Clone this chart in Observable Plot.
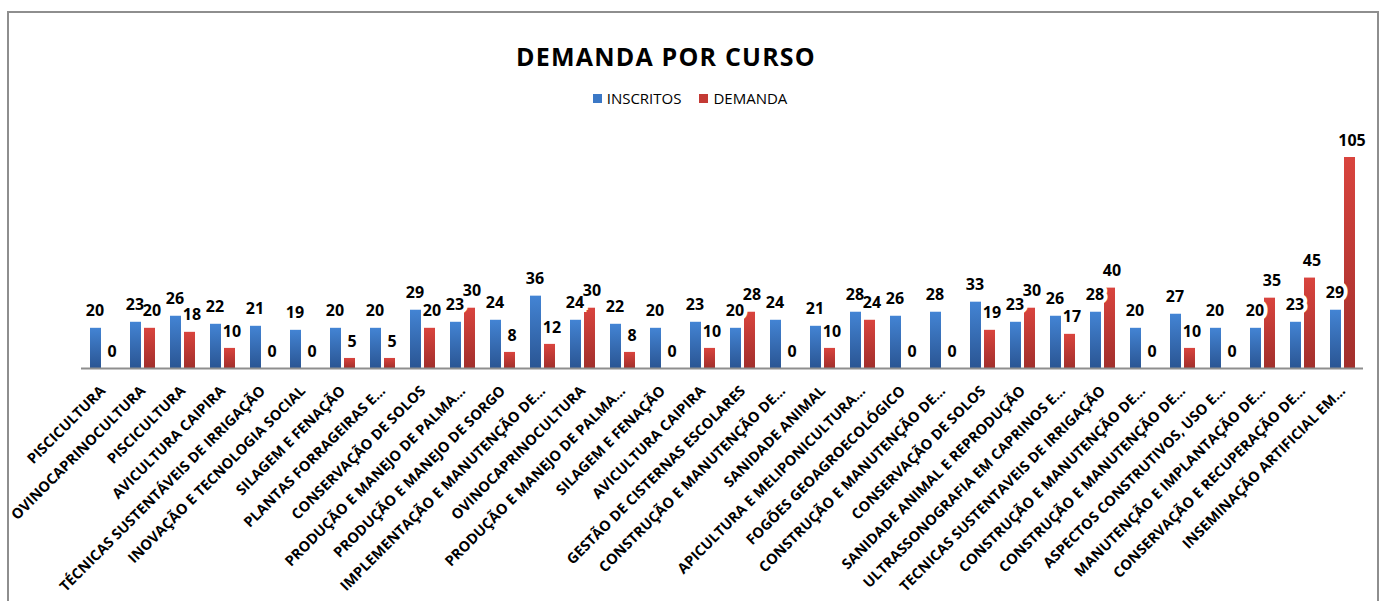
<!DOCTYPE html>
<html>
<head>
<meta charset="utf-8">
<script src="https://cdn.jsdelivr.net/npm/d3@7"></script>
<script src="https://cdn.jsdelivr.net/npm/@observablehq/plot@0.6"></script>
<style>
  body { margin: 0; background: #fff; font-family: "Open Sans", sans-serif; }
  #wrap { position: relative; width: 1384px; height: 601px; overflow: hidden; background: #fff; }
  #frame { position: absolute; left: 7px; top: 11px; width: 1372px; height: 700px; border: 2px solid #8e8e8e; box-sizing: border-box; }
  #title { position: absolute; left: 0; top: 39px; width: 1332px; text-align: center; font-size: 25px; line-height: 34px; font-weight: 700; letter-spacing: 1.2px; color: #000; }
  #legend { position: absolute; left: 0; top: 88px; width: 1380px; display: flex; justify-content: center; align-items: center; font-size: 15px; line-height: 20px; color: #000; }
  #legend .item { display: flex; align-items: center; margin: 0 9px; }
  #legend .sw { width: 9px; height: 9px; margin-right: 5px; }
  #chart { position: absolute; left: 0; top: 110px; }
</style>
</head>
<body>
<div id="wrap">
  <div id="frame"></div>
  <div id="title"></div>
  <div id="legend"></div>
  <div id="chart"></div>
</div>
<script>
const titulo = "DEMANDA POR CURSO";
const series = ["INSCRITOS", "DEMANDA"];
const cursos = [
  "PISCICULTURA",
  "OVINOCAPRINOCULTURA",
  "PISCICULTURA",
  "AVICULTURA CAIPIRA",
  "TÉCNICAS SUSTENTÁVEIS DE IRRIGAÇÃO",
  "INOVAÇÃO E TECNOLOGIA SOCIAL",
  "SILAGEM E FENAÇÃO",
  "PLANTAS FORRAGEIRAS E...",
  "CONSERVAÇÃO DE SOLOS",
  "PRODUÇÃO E MANEJO DE PALMA...",
  "PRODUÇÃO E MANEJO DE SORGO",
  "IMPLEMENTAÇÃO E MANUTENÇÃO DE...",
  "OVINOCAPRINOCULTURA",
  "PRODUÇÃO E MANEJO DE PALMA...",
  "SILAGEM E FENAÇÃO",
  "AVICULTURA CAIPIRA",
  "GESTÃO DE CISTERNAS ESCOLARES",
  "CONSTRUÇÃO E MANUTENÇÃO DE...",
  "SANIDADE ANIMAL",
  "APICULTURA E MELIPONICULTURA...",
  "FOGÕES GEOAGROECOLÓGICO",
  "CONSTRUÇÃO E MANUTENÇÃO DE...",
  "CONSERVAÇÃO DE SOLOS",
  "SANIDADE ANIMAL E REPRODUÇÃO",
  "ULTRASSONOGRAFIA EM CAPRINOS E...",
  "TECNICAS SUSTENTAVEIS DE IRRIGAÇÃO",
  "CONSTRUÇÃO E MANUTENÇÃO DE...",
  "CONSTRUÇÃO E MANUTENÇÃO DE...",
  "ASPECTOS CONSTRUTIVOS, USO E...",
  "MANUTENÇÃO E IMPLANTAÇÃO DE...",
  "CONSERVAÇÃO E RECUPERAÇÃO DE...",
  "INSEMINAÇÃO ARTIFICIAL EM..."
];
const inscritos = [20, 23, 26, 22, 21, 19, 20, 20, 29, 23, 24, 36, 24, 22, 20, 23, 20, 24, 21, 28, 26, 28, 33, 23, 26, 28, 20, 27, 20, 20, 23, 29];
const demanda   = [0, 20, 18, 10, 0, 0, 5, 5, 20, 30, 8, 12, 30, 8, 0, 10, 28, 0, 10, 24, 0, 0, 19, 30, 17, 40, 0, 10, 0, 35, 45, 105];
const swatch = ["#3b78c6", "#c43a34"];
const gradTop = ["#4384d4", "#d9443e"];
const gradBottom = ["#2a5593", "#a12f2c"];

document.getElementById("title").textContent = titulo;
const legend = document.getElementById("legend");
series.forEach((s, k) => {
  const it = document.createElement("div");
  it.className = "item";
  const sw = document.createElement("span");
  sw.className = "sw";
  sw.style.background = swatch[k];
  const tx = document.createElement("span");
  tx.textContent = s;
  it.append(sw, tx);
  legend.append(it);
});

const idx = d3.range(cursos.length);
const rowsI = idx.map(i => ({i, v: inscritos[i]}));
const rowsD = idx.map(i => ({i, v: demanda[i]}));

const labelFont = {fontSize: 16, fontWeight: "bold", fontFamily: "Open Sans", lineAnchor: "middle", textAnchor: "middle"};

const chart = Plot.plot({
  width: 1384,
  height: 491,
  marginLeft: 81,
  marginRight: 21,
  marginTop: 47,
  marginBottom: 233,
  style: {color: "#000", fontFamily: "Open Sans", background: "transparent", overflow: "visible"},
  x: {type: "band", domain: idx, paddingInner: 0.725, paddingOuter: 0.3625, axis: null, label: null},
  y: {domain: [0, 105], axis: null, label: null},
  marks: [
    Plot.barY(rowsI, {x: "i", y: "v", fill: "url(#gradI)", dx: -7}),
    Plot.barY(rowsD, {x: "i", y: "v", fill: "url(#gradD)", dx: 7}),
    Plot.ruleY([0], {stroke: "#8e8e8e", strokeWidth: 2}),
    Plot.axisX({
      anchor: "bottom",
      tickRotate: -45,
      tickSize: 0,
      tickPadding: 20,
      tickFormat: i => cursos[i],
      fontSize: 14.5,
      fontWeight: "bold",
      fill: "#000",
      label: null
    }),
    Plot.text(rowsI, {x: "i", y: "v", text: d => String(d.v), dx: -8, dy: -17, fill: "#000",
      stroke: "white", strokeWidth: 8, strokeLinejoin: "miter", paintOrder: "stroke", ...labelFont}),
    Plot.text(rowsD, {x: "i", y: "v", text: d => String(d.v), dx: 9, dy: -17, fill: "#000", ...labelFont})
  ]
});

// gradients for bar fills
const NS = "http://www.w3.org/2000/svg";
const defs = document.createElementNS(NS, "defs");
[["gradI", 0], ["gradD", 1]].forEach(([id, k]) => {
  const g = document.createElementNS(NS, "linearGradient");
  g.setAttribute("id", id);
  g.setAttribute("x1", "0"); g.setAttribute("y1", "0");
  g.setAttribute("x2", "0"); g.setAttribute("y2", "1");
  [["0%", gradTop[k]], ["100%", gradBottom[k]]].forEach(([o, c]) => {
    const st = document.createElementNS(NS, "stop");
    st.setAttribute("offset", o);
    st.setAttribute("stop-color", c);
    g.append(st);
  });
  defs.append(g);
});
chart.insertBefore(defs, chart.firstChild);
document.getElementById("chart").append(chart);
</script>
</body>
</html>
